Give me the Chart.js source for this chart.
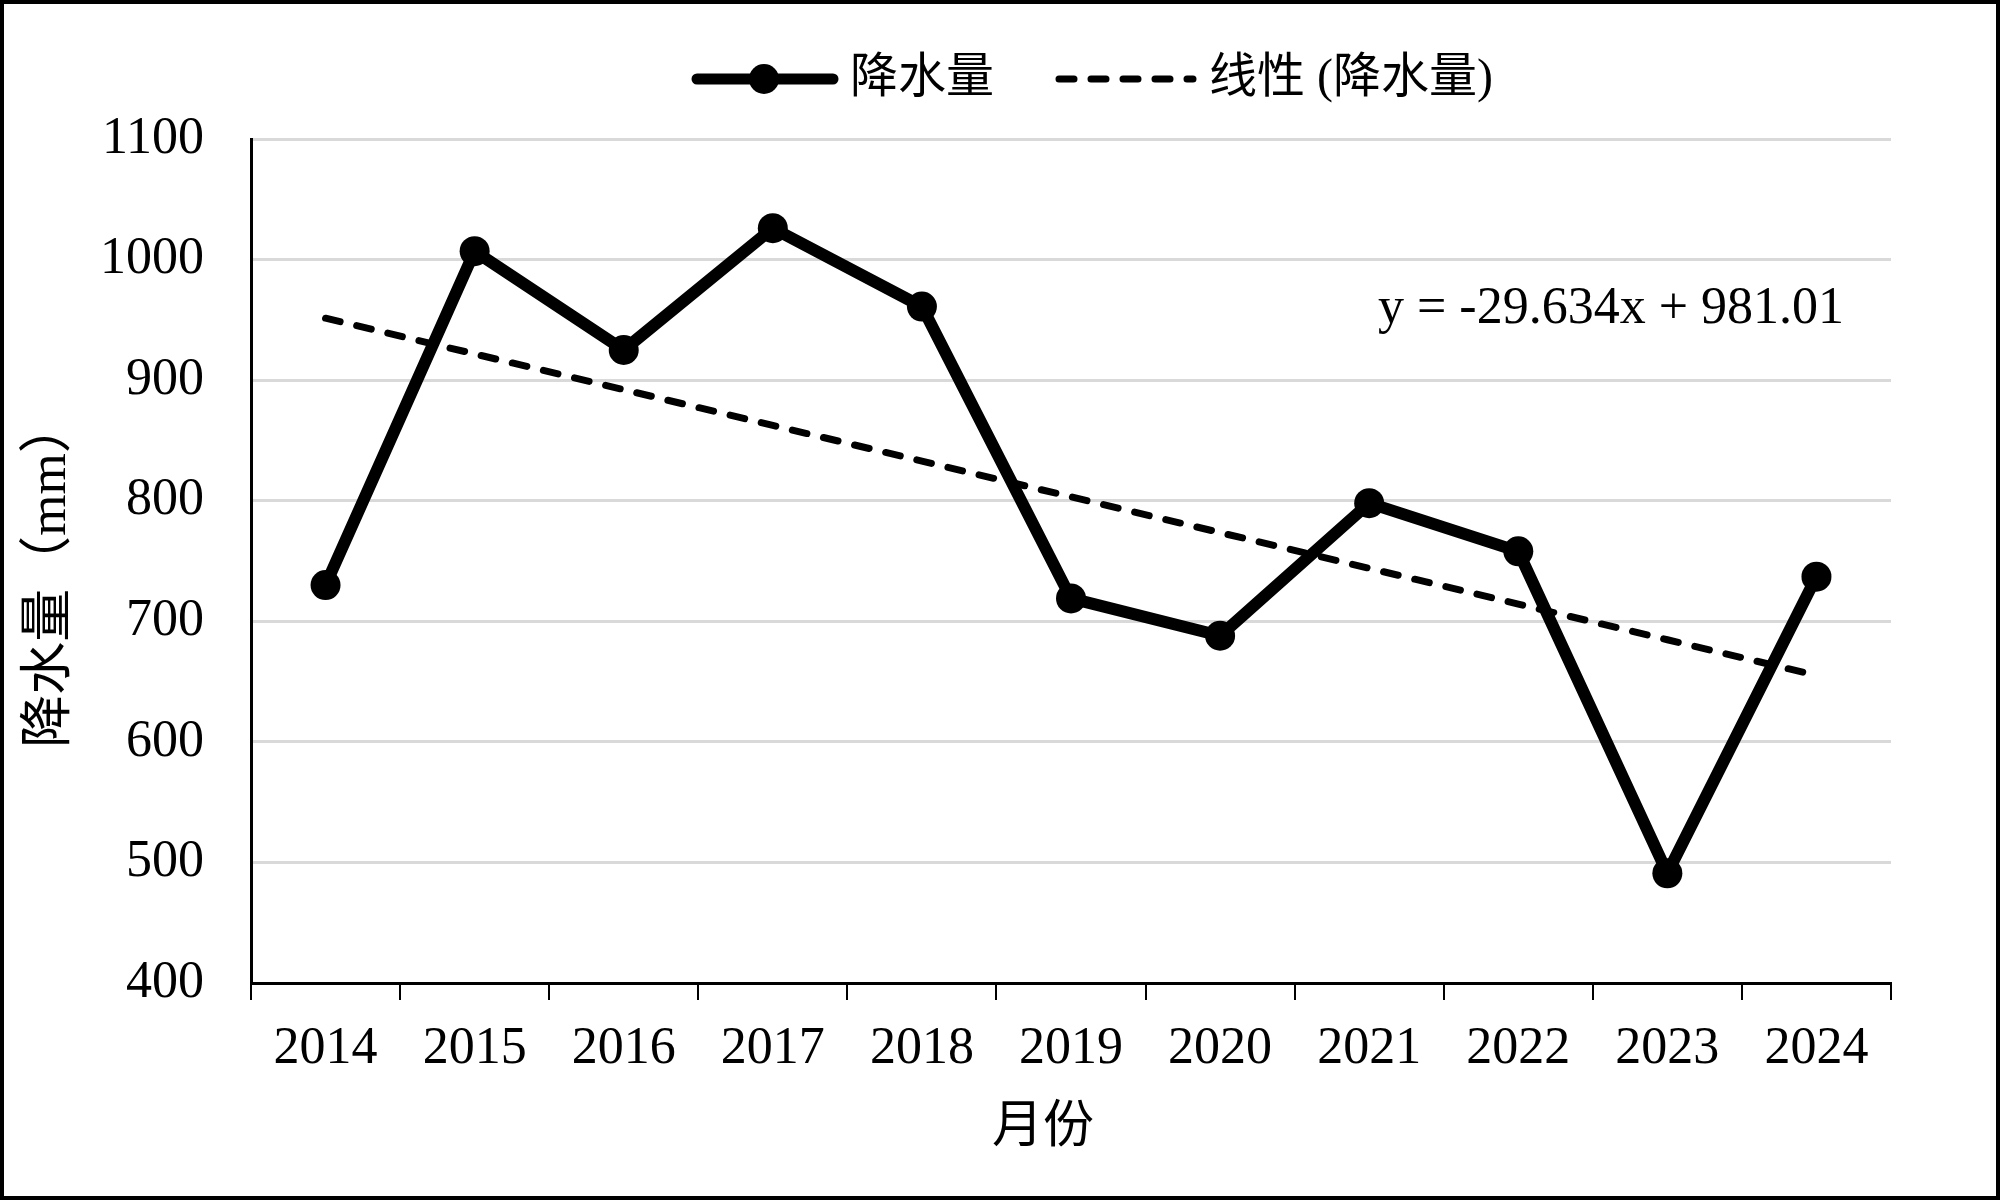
<!DOCTYPE html>
<html>
<head>
<meta charset="utf-8">
<script src="https://cdn.jsdelivr.net/npm/chart.js@4.4.1/dist/chart.umd.min.js"></script>
<style>
  html, body { margin: 0; padding: 0; background: #fff; }
  #wrap { width: 2000px; height: 1200px; }
</style>
</head>
<body>
<div id="wrap"><canvas id="myChart" width="2000" height="1200"></canvas></div>
<script>
// data
const years = ['2014', '2015', '2016', '2017', '2018', '2019', '2020', '2021', '2022', '2023', '2024'];
const rainfall = [730, 1007, 925, 1026, 961, 719, 688, 798, 758, 491, 737];
// linear trend values (y = -29.634x + 981.01 at x = 1..11)
const trend = [951.38, 921.74, 892.11, 862.47, 832.84, 803.21, 773.57, 743.94, 714.30, 684.67, 655.04];
const yMin = 400;
const yMax = 1100;
const yStep = 100;

const seriesName = '降水量';
const trendName = '线性 (降水量)';
const equationText = 'y = -29.634x + 981.01';
const xTitle = '月份';
const yTitle = '降水量（mm）';

const fontFamily = '"Liberation Serif", "Noto Sans CJK SC", serif';
const trendDash = [15, 17];

// titles, legend, equation and frame
const extras = {
  id: 'extras',
  afterDraw(chart) {
    const ctx = chart.ctx;
    ctx.save();

    // outer frame
    ctx.strokeStyle = '#000';
    ctx.lineWidth = 4;
    ctx.strokeRect(2, 2, 1996, 1196);

    ctx.fillStyle = '#000';
    ctx.textBaseline = 'middle';

    // legend
    const ly = 79;
    ctx.lineWidth = 11;
    ctx.lineCap = 'round';
    ctx.beginPath();
    ctx.moveTo(697, ly);
    ctx.lineTo(833, ly);
    ctx.stroke();
    ctx.beginPath();
    ctx.arc(764, ly, 15, 0, Math.PI * 2);
    ctx.fill();
    ctx.font = '48px ' + fontFamily;
    ctx.textAlign = 'left';
    ctx.fillText(seriesName, 850, ly);

    ctx.lineWidth = 7;
    ctx.setLineDash(trendDash);
    ctx.beginPath();
    ctx.moveTo(1059, ly);
    ctx.lineTo(1193, ly);
    ctx.stroke();
    ctx.setLineDash([]);
    ctx.fillText(trendName, 1209, ly);

    // trend equation
    ctx.font = '52px ' + fontFamily;
    ctx.fillText(equationText, 1378, 309);

    // axis titles
    ctx.font = '51px ' + fontFamily;
    ctx.textAlign = 'center';
    ctx.fillText(xTitle, 1043, 1129);
    ctx.font = '53px ' + fontFamily;
    ctx.translate(51, 574);
    ctx.rotate(-Math.PI / 2);
    ctx.fillText(yTitle, 0, 0);

    ctx.restore();
  }
};

Chart.defaults.font.family = fontFamily;
Chart.defaults.color = '#000';

const data = {
  labels: years,
  datasets: [{
    label: seriesName,
    data: rainfall,
    borderColor: '#000',
    backgroundColor: '#000',
    borderWidth: 12,
    borderJoinStyle: 'round',
    borderCapStyle: 'round',
    pointRadius: 15,
    pointBorderWidth: 0,
    pointBackgroundColor: '#000',
    tension: 0,
    order: 1
  },
  {
    label: trendName,
    data: trend,
    borderColor: '#000',
    borderWidth: 7,
    borderDash: trendDash,
    borderCapStyle: 'round',
    pointRadius: 0,
    tension: 0,
    order: 0
  }]
};

const config = {
  type: 'line',
  data: data,
  options: {
    responsive: false,
    animation: false,
    devicePixelRatio: 1,
    layout: { padding: { top: 139, right: 109, left: 0, bottom: 0 } },
    plugins: {
      legend: { display: false },
      tooltip: { enabled: false }
    },
    scales: {
      x: {
        type: 'category',
        offset: true,
        grid: {
          offset: true,
          drawOnChartArea: false,
          drawTicks: true,
          tickLength: 17,
          color: '#000',
          lineWidth: 2
        },
        border: { color: '#000', width: 3 },
        ticks: { font: { size: 52 }, padding: 18, maxRotation: 0 },
        afterFit(scale) { scale.height = 217; }
      },
      y: {
        min: yMin,
        max: yMax,
        ticks: {
          stepSize: yStep,
          font: { size: 52 },
          padding: 47,
          callback: (value) => String(value)
        },
        grid: { color: '#d9d9d9', lineWidth: 3, drawTicks: false },
        border: { color: '#000', width: 3 },
        afterFit(scale) { scale.width = 251; }
      }
    }
  },
  plugins: [extras]
};

const myChart = new Chart(document.getElementById('myChart'), config);
</script>
</body>
</html>
